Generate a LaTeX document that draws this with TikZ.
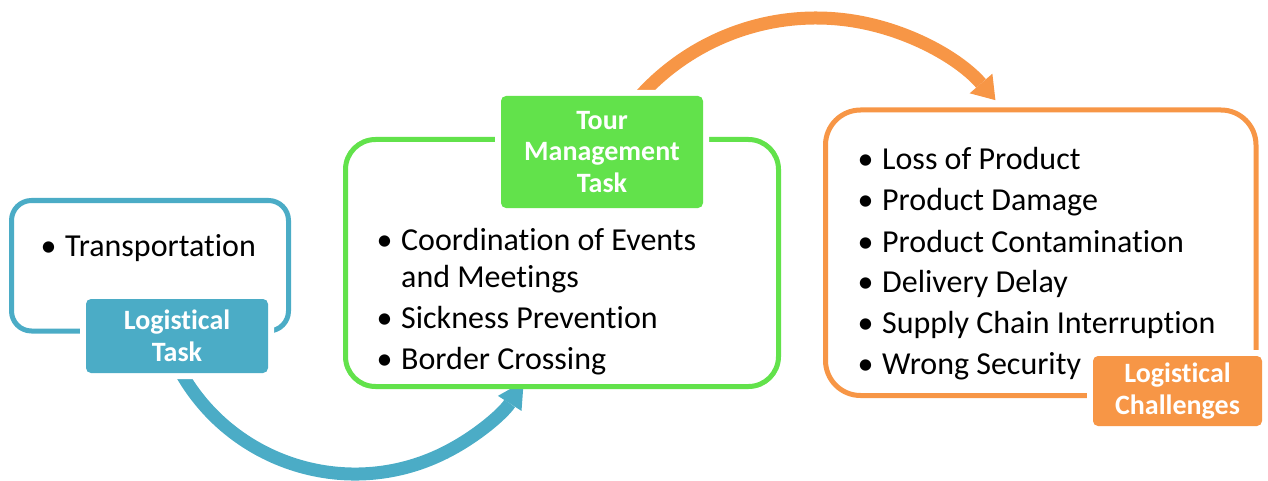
\documentclass[tikz,border=0pt]{standalone}
\usepackage{fontspec}
\setmainfont{Carlito}[Ligatures=NoCommon]
\usetikzlibrary{arrows.meta,calc}
\definecolor{cblue}{HTML}{4BACC6}
\definecolor{cgreen}{HTML}{62E24B}
\definecolor{corange}{HTML}{F79646}
\newcommand\bitem{\makebox[24.7pt][l]{•}}
\tikzset{
  frame/.style={draw=#1, fill=white, line width=5pt, inner sep=0pt},
  tag/.style={fill=#1, text=white, align=center, inner sep=0pt,
    rounded corners=5pt, font=\bfseries\fontsize{28}{31.5}\selectfont,
    preaction={draw=white, line width=12pt}},
  blist/.style={inner sep=0pt, anchor=base west, font=\fontsize{32}{41}\selectfont},
  bigarrow/.style={draw=#1, line width=13pt}
}
\begin{document}
\begin{tikzpicture}[x=1pt,y=1pt]
\useasboundingbox (0,0) rectangle (1268,-481);
% arrows (drawn first, partly hidden by boxes and tags)
\coordinate (cb) at (355,-274);
\coordinate (co) at (816,-255);
\draw[bigarrow=cblue, -{Triangle[width=28pt,length=26pt,line width=0pt]}]
  ($(cb)+(205:200)$) arc[start angle=205, end angle=327.5, radius=200];
\draw[bigarrow=corange, -{Triangle[width=30pt,length=22pt,line width=0pt]}]
  ($(co)+(140:237)$) arc[start angle=140, end angle=40.8, radius=237];
% frames
\node[frame=cblue, rounded corners=20pt, minimum width=277pt, minimum height=130.5pt]
  (b1) at (150,-265.75) {};
\node[frame=cgreen, rounded corners=30pt, minimum width=433pt, minimum height=247pt]
  (b2) at (562,-263) {};
\node[frame=corange, rounded corners=35pt, minimum width=430.5pt, minimum height=285.5pt]
  (b3) at (1040.75,-252.75) {};
% lists
\node[blist] (t1) at (40.3,-256) {\begin{tabular}[t]{@{}l@{}l@{}}
  \bitem & Transportation
\end{tabular}};
\node[blist] (t2) at (376.3,-250) {\begin{tabular}[t]{@{}l@{}l@{}}
  \bitem & Coordination of Events\\[-4pt]
         & and Meetings\\
  \bitem & Sickness Prevention\\
  \bitem & Border Crossing
\end{tabular}};
\node[blist] (t3) at (857.3,-170) {\begin{tabular}[t]{@{}l@{}l@{}}
  \bitem & Loss of Product\\
  \bitem & Product Damage\\
  \bitem & Product Contamination\\
  \bitem & Delivery Delay\\
  \bitem & Supply Chain Interruption\\
  \bitem & Wrong Security
\end{tabular}};
% tags
\node[tag=cblue, minimum width=182pt, minimum height=74pt] (l1) at (177,-336) {Logistical\\Task};
\node[tag=cgreen, minimum width=202pt, minimum height=112pt] (l2) at (602,-152) {Tour\\Management\\Task};
\node[tag=corange, minimum width=169pt, minimum height=70pt] (l3) at (1177.5,-391) {Logistical\\Challenges};
\end{tikzpicture}
\end{document}
